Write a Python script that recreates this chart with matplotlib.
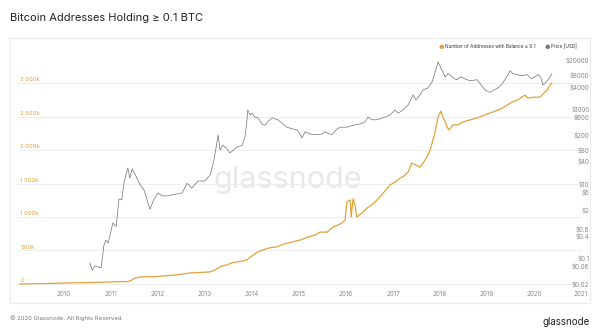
import matplotlib
matplotlib.use("Agg")
import matplotlib.pyplot as plt
import matplotlib.transforms as mtransforms
import numpy as np

plt.rcParams['font.family'] = ['Inter', 'DejaVu Sans']

# price [USD], decimal years
price_year = [2010.55, 2010.60, 2010.66, 2010.79, 2010.85, 2010.89, 2010.94, 2011.04, 2011.11, 2011.17,
              2011.23, 2011.28, 2011.36, 2011.40, 2011.45, 2011.53, 2011.62, 2011.70, 2011.79, 2011.83,
              2011.91, 2012.00, 2012.09, 2012.21, 2012.36, 2012.51, 2012.62, 2012.72, 2012.85, 2012.99,
              2013.11, 2013.19, 2013.28, 2013.32, 2013.38, 2013.47, 2013.53, 2013.68, 2013.79, 2013.85,
              2013.89, 2013.91, 2013.96, 2014.00, 2014.06, 2014.13, 2014.21, 2014.28, 2014.34, 2014.43,
              2014.55, 2014.66, 2014.74, 2014.85, 2014.96, 2015.02, 2015.06, 2015.13, 2015.23, 2015.38,
              2015.49, 2015.55, 2015.70, 2015.79, 2015.87, 2016.02, 2016.15, 2016.30, 2016.40, 2016.47,
              2016.55, 2016.66, 2016.79, 2016.94, 2017.04, 2017.11, 2017.21, 2017.32, 2017.43, 2017.49,
              2017.53, 2017.64, 2017.74, 2017.83, 2017.89, 2017.96, 2018.00, 2018.04, 2018.11, 2018.17,
              2018.21, 2018.30, 2018.36, 2018.43, 2018.49, 2018.57, 2018.64, 2018.79, 2018.91, 2018.96,
              2019.06, 2019.15, 2019.23, 2019.32, 2019.38, 2019.45, 2019.49, 2019.55, 2019.64, 2019.74,
              2019.85, 2019.94, 2019.98, 2020.09, 2020.15, 2020.19, 2020.26, 2020.30, 2020.38]
price_usd = [0.073, 0.047, 0.061, 0.054, 0.22, 0.30, 0.25, 0.86, 0.70, 3.8,
             3.6, 10.9, 25.8, 13.8, 24.4, 15.7, 9.0, 6.7, 2.9, 2.0,
             3.6, 5.5, 4.6, 4.6, 5.1, 5.5, 10.0, 7.4, 11.5, 11.5,
             16.7, 42, 198, 78, 105, 83, 65, 93, 105, 175,
             440, 925, 680, 760, 600, 570, 390, 360, 460, 570,
             505, 390, 320, 290, 270, 210, 164, 240, 210, 200,
             210, 240, 200, 270, 320, 320, 360, 390, 440, 600,
             505, 505, 570, 680, 925, 760, 925, 1260, 2330, 1720,
             1950, 3180, 3590, 5200, 9080, 17900, 13900, 10900, 7100, 8700,
             8200, 6400, 6000, 7100, 6700, 6000, 5600, 6000, 3800, 3180,
             2740, 3180, 3590, 4600, 6000, 8200, 10400, 8700, 8200, 7700,
             8200, 6400, 6700, 8200, 6700, 4330, 5200, 6000, 8700]

# number of addresses with balance >= 0.1 BTC, thousands
addr_year = [2009.06, 2009.49, 2010.02, 2010.55, 2010.98, 2011.36, 2011.45, 2011.51, 2011.62, 2011.98,
             2012.36, 2012.68, 2012.89, 2013.11, 2013.21, 2013.28, 2013.36, 2013.47, 2013.57, 2013.68,
             2013.81, 2013.89, 2013.96, 2014.02, 2014.13, 2014.23, 2014.38, 2014.53, 2014.70, 2014.87,
             2015.02, 2015.19, 2015.34, 2015.45, 2015.60, 2015.72, 2015.83, 2015.91, 2015.98, 2016.02,
             2016.09, 2016.11, 2016.15, 2016.19, 2016.23, 2016.34, 2016.45, 2016.60, 2016.72, 2016.83,
             2016.94, 2017.04, 2017.15, 2017.23, 2017.32, 2017.40, 2017.49, 2017.57, 2017.64, 2017.72,
             2017.79, 2017.85, 2017.89, 2017.96, 2018.02, 2018.06, 2018.11, 2018.15, 2018.19, 2018.28,
             2018.38, 2018.49, 2018.64, 2018.79, 2018.96, 2019.13, 2019.28, 2019.43, 2019.53, 2019.64,
             2019.74, 2019.81, 2019.87, 2020.00, 2020.13, 2020.21, 2020.28, 2020.34, 2020.38]
addr_k = [0, 5, 15, 22, 30, 37, 60, 90, 105, 112,
          134, 164, 172, 180, 210, 240, 270, 285, 315, 330,
          345, 360, 400, 430, 480, 510, 540, 555, 600, 630,
          655, 700, 730, 775, 775, 850, 880, 910, 955, 1225,
          1255, 1000, 1270, 1180, 1000, 1060, 1135, 1210, 1300, 1390,
          1480, 1520, 1580, 1610, 1670, 1805, 1775, 1745, 1805, 1895,
          2000, 2150, 2255, 2495, 2580, 2495, 2420, 2345, 2300, 2375,
          2375, 2420, 2450, 2480, 2525, 2570, 2610, 2670, 2715, 2745,
          2790, 2820, 2775, 2790, 2790, 2850, 2895, 2970, 3000]

left_ticks = [0, 500, 1000, 1500, 2000, 2500, 3000]
left_labels = ['0', '500k', '1 000k', '1 500k', '2 000k', '2 500k', '3 000k']
right_ticks = [0.02, 0.06, 0.1, 0.4, 0.6, 2, 6, 10, 40, 80, 200, 600, 1000, 4000, 8000, 20000]
year_ticks = list(range(2010, 2022))

orange = '#e0a23e'
grey_line = '#707070'
tick_col = '#8a8a8a'

W, H = 600, 334
fig = plt.figure(figsize=(6, 3.34), dpi=100)

# panel frame
frame = plt.Rectangle((10 / W, 1 - 303 / H), 580 / W, 265 / H, transform=fig.transFigure,
                      fill=False, edgecolor='#ececec', linewidth=0.8)
fig.add_artist(frame)

ax_l, ax_r, ax_t, ax_b = 17, 581, 55, 287
ax = fig.add_axes([ax_l / W, 1 - ax_b / H, (ax_r - ax_l) / W, (ax_b - ax_t) / H])
ax2 = ax.twinx()

ax.plot(addr_year, addr_k, color=orange, lw=0.9, zorder=3)
ax2.plot(price_year, price_usd, color=grey_line, lw=0.5)

ax.set_xlim(2009.0, 2021.0)
ax.set_ylim(-45, 3419)
ax2.set_yscale('log')
ax2.set_ylim(0.0166, 27540)

for a in (ax, ax2):
    for s in a.spines.values():
        s.set_visible(False)

ax.set_yticks(left_ticks)
ax.set_yticklabels([])
ax.tick_params(axis='y', length=0)
ax.grid(axis='y', color='#ededed', lw=0.7)
ax.set_axisbelow(True)
trans = mtransforms.blended_transform_factory(ax.transAxes, ax.transData)
for v, lab in zip(left_ticks, left_labels):
    ax.text(0.006, v + 12, lab, transform=trans, fontsize=4.3, color=orange,
            ha='left', va='bottom')

ax.set_xticks(year_ticks)
ax.set_xticklabels([str(y) for y in year_ticks], fontsize=4.5, color=tick_col)
ax.tick_params(axis='x', length=0, pad=3)

ax2.set_yticks(right_ticks)
ax2.set_yticklabels(['$' + ('%g' % t) for t in right_ticks], fontsize=4.5, color=tick_col, ha='right')
ax2.yaxis.set_minor_locator(matplotlib.ticker.NullLocator())
ax2.tick_params(axis='y', length=0, pad=6)

# watermark
ax.text(0.48, 0.46, 'glassnode', transform=ax.transAxes, fontsize=22, color='#e8e8e8',
        ha='center', va='center', zorder=0)

fig.text(10 / W, 1 - 18 / H, 'Bitcoin Addresses Holding \u2265 0.1 BTC', fontsize=8,
         color='#222222', va='center', ha='left')

# legend
fig.text(441 / W, 1 - 47 / H, '\u25cf', fontsize=4.3, color=orange, va='center', ha='center')
fig.text(445 / W, 1 - 47 / H, 'Number of Addresses with Balance \u2265 0.1', fontsize=3.4,
         color='#333333', va='center', ha='left')
fig.text(547 / W, 1 - 47 / H, '\u25cf', fontsize=4.3, color='#777777', va='center', ha='center')
fig.text(551 / W, 1 - 47 / H, 'Price [USD]', fontsize=3.4, color='#333333', va='center', ha='left')

fig.text(10 / W, 1 - 318 / H, '\u00a9 2020 Glassnode. All Rights Reserved.', fontsize=4.3,
         color='#777777', va='center', ha='left')
fig.text(590 / W, 1 - 322 / H, 'glassnode', fontsize=7, color='#222222', va='center', ha='right')

fig.savefig('out.png', dpi=100)
